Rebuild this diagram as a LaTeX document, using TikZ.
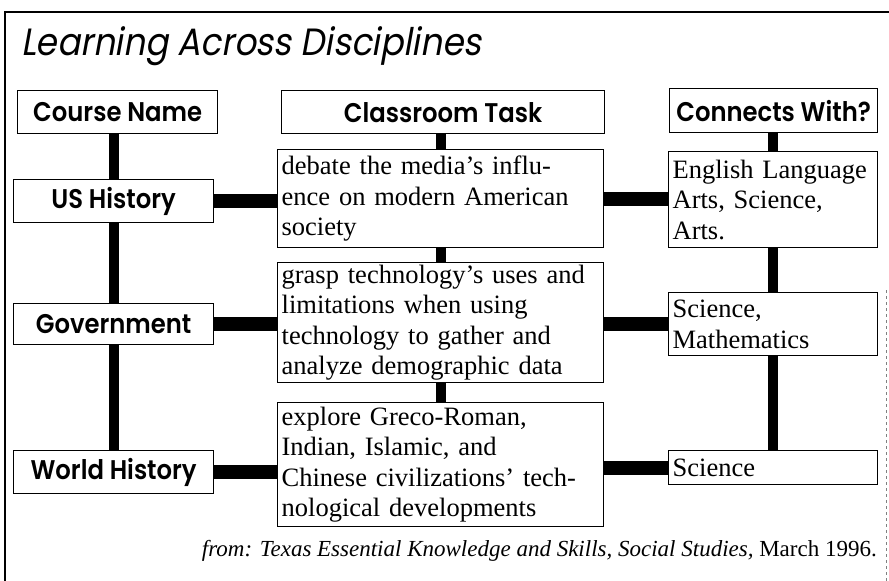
\documentclass[tikz,border=0pt]{standalone}
\usepackage{fontspec}
\setmainfont{Liberation Serif}
\newfontfamily\headfont[FakeStretch=0.9]{Poppins SemiBold}
\newfontfamily\titlefont[FakeSlant=0.18,FakeStretch=0.9]{Poppins}
\usetikzlibrary{backgrounds}
\tikzset{
  box/.style={draw=black, line width=1.3pt, fill=white, anchor=north west},
  headbox/.style={box, inner sep=0pt, font=\headfont\fontsize{27}{30}\selectfont},
  textbox/.style={box, inner xsep=4pt, inner ysep=2pt, align=left,
    font=\fontsize{26.5}{30.5}\selectfont},
  vbar/.style={line width=10pt, black},
  hbar/.style={line width=14pt, black},
}
\begin{document}
\begin{tikzpicture}[x=1pt, y=-1pt]
\useasboundingbox (0,0) rectangle (889,581);
% frame
\draw[line width=2pt] (5,581) -- (5,12) -- (889,12);
\draw[line width=0.6pt, dashed, gray] (886,290) -- (886,581);
% title
\node[anchor=base west, inner sep=0pt] (title) at (21,55)
  {\titlefont\fontsize{38}{40}\selectfont Learning Across Disciplines};
% header boxes
\node[headbox, minimum width=200pt, minimum height=43pt] (hcourse) at (17,90) {Course Name};
\node[headbox, minimum width=323pt, minimum height=43pt] (htask) at (281,90) {Classroom Task};
\node[headbox, minimum width=208pt, minimum height=44pt] (hconn) at (669,88) {Connects With?};
% course boxes
\node[headbox, minimum width=200pt, minimum height=43pt] (us) at (13,179) {US History};
\node[headbox, minimum width=200pt, minimum height=41pt] (gov) at (13,303) {Government};
\node[headbox, minimum width=200pt, minimum height=43pt] (wh) at (13,450) {World History};
% task boxes
\node[textbox, text width=318pt, minimum height=98pt] (t1) at (277,149)
  {debate the media's influ-\\ence on modern American\\society};
\node[textbox, text width=318pt, minimum height=115pt] (t2) at (277,262)
  {grasp technology's uses and\\limitations when using\\technology to gather and\\analyze demographic data};
\node[textbox, text width=318pt, minimum height=124pt] (t3) at (277,402)
  {explore Greco-Roman,\\Indian, Islamic, and\\Chinese civilizations' tech-\\nological developments};
% connects boxes
\node[textbox, text width=201pt, minimum height=96pt] (c1) at (668,151)
  {English Language\\Arts, Science,\\Arts.};
\node[textbox, text width=201pt, minimum height=63pt] (c2) at (668,292)
  {Science,\\Mathematics};
\node[textbox, text width=201pt, minimum height=34pt] (c3) at (668,450)
  {Science};
% footer
\node[anchor=base east, inner sep=0pt] (src) at (877,556)
  {\fontsize{23}{26}\selectfont\itshape from: Texas Essential Knowledge and Skills, Social Studies,\upshape{} March 1996.};
% connectors
\begin{scope}[on background layer]
  \draw[vbar] (us.north |- hcourse.south) -- (wh.north);
  \draw[vbar] (t1.north |- htask.south) -- (t3.north);
  \draw[vbar] (c1.north |- hconn.south) -- (c3.north);
  \draw[hbar] (us.east) -- (us.east -| t1.west);
  \draw[hbar] (t1.east) -- (t1.east -| c1.west);
  \draw[hbar] (gov.east) -- (gov.east -| t2.west);
  \draw[hbar] (c2.west -| t2.east) -- (c2.west);
  \draw[hbar] (wh.east) -- (wh.east -| t3.west);
  \draw[hbar] (c3.west -| t3.east) -- (c3.west);
\end{scope}
\end{tikzpicture}
\end{document}
